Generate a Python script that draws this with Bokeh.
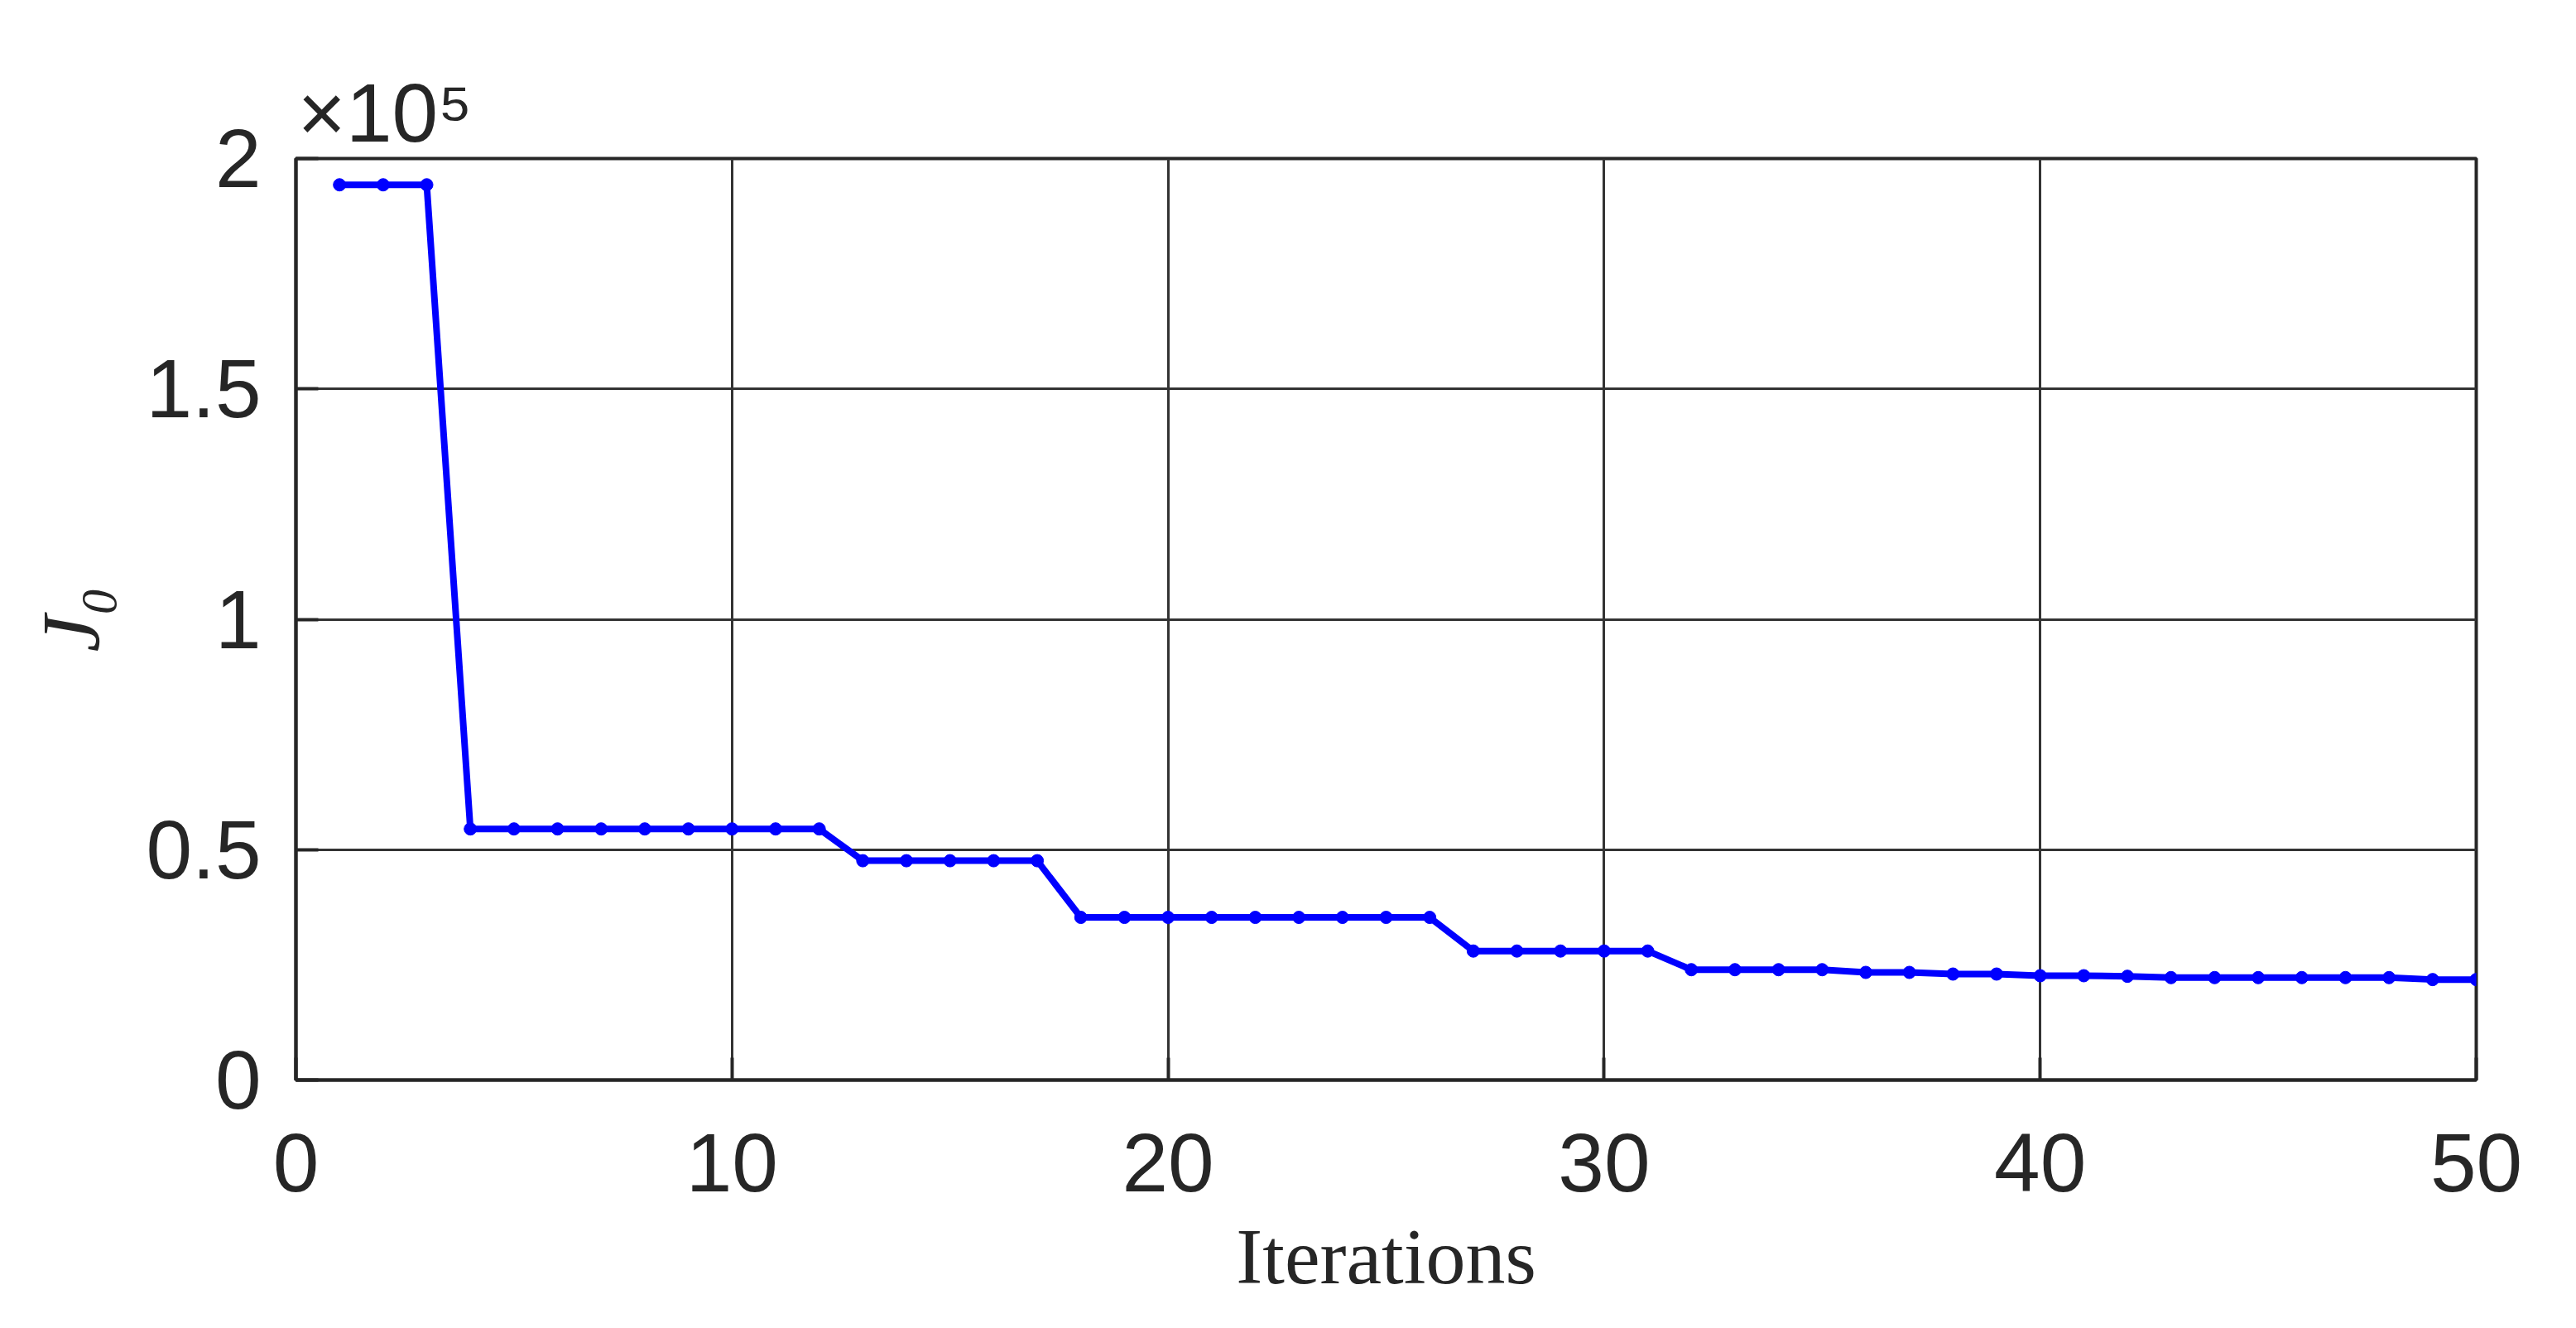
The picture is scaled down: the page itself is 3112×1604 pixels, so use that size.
from bokeh.plotting import figure
from bokeh.models import FixedTicker, Range1d
from bokeh.embed import file_html
from bokeh.resources import INLINE

# ---- data ----
iterations = list(range(1, 51))
j0_values = (
    [194300] * 3 +
    [54500] * 9 +
    [47600] * 5 +
    [35300] * 9 +
    [28000] * 5 +
    [23950] * 4 +
    [23360] * 2 +
    [23000] * 2 +
    [22640] * 2 +
    [22520] * 1 +
    [22230] * 6 +
    [21810] * 2
)
x_ticks = [0, 10, 20, 30, 40, 50]
y_ticks = [0, 50000, 100000, 150000, 200000]
y_tick_labels = ["0", "0.5", "1", "1.5", "2"]
x_label = "Iterations"
y_label = "J\u2080"
exponent_text = "\u00d710\u2075"

TXT = "#262626"
SANS = "Liberation Sans"
SERIF = "Liberation Serif"

p = figure(
    frame_width=2634, frame_height=1113,
    min_border_left=357, min_border_right=105,
    min_border_top=191, min_border_bottom=284,
    x_range=Range1d(0, 50), y_range=Range1d(0, 200000),
    output_backend="svg", toolbar_location=None,
    background_fill_color="white", border_fill_color="white",
)

p.outline_line_color = TXT
p.outline_line_width = 4
p.outline_line_alpha = 1.0

for ax in (p.xaxis[0], p.yaxis[0]):
    ax.axis_line_color = TXT
    ax.axis_line_width = 4
    ax.major_tick_line_color = TXT
    ax.major_tick_line_width = 4
    ax.major_tick_in = 27
    ax.major_tick_out = 0
    ax.minor_tick_line_color = None
    ax.major_label_text_font = SANS
    ax.major_label_text_font_size = "100px"
    ax.major_label_text_color = TXT

p.xaxis.ticker = FixedTicker(ticks=x_ticks)
p.yaxis.ticker = FixedTicker(ticks=y_ticks)
p.yaxis.major_label_overrides = {t: s for t, s in zip(y_ticks, y_tick_labels)}
p.xaxis.major_label_standoff = 65
p.yaxis.major_label_standoff = 42

p.xaxis.axis_label = x_label
p.xaxis.axis_label_text_font = SERIF
p.xaxis.axis_label_text_font_style = "normal"
p.xaxis.axis_label_text_font_size = "96px"
p.xaxis.axis_label_text_color = TXT
p.xaxis.axis_label_standoff = 22

p.yaxis.axis_label = y_label
p.yaxis.axis_label_text_font = SERIF
p.yaxis.axis_label_text_font_style = "italic"
p.yaxis.axis_label_text_font_size = "100px"
p.yaxis.axis_label_text_color = TXT
p.yaxis.axis_label_standoff = 32

p.title.text = exponent_text
p.title.align = "left"
p.title.offset = 2
p.title.standoff = 0
p.title.text_font = SANS
p.title.text_font_style = "normal"
p.title.text_font_size = "100px"
p.title.text_color = TXT

p.xgrid.ticker = FixedTicker(ticks=x_ticks)
p.ygrid.ticker = FixedTicker(ticks=y_ticks)
for g in (p.xgrid[0], p.ygrid[0]):
    g.grid_line_color = "#333333"
    g.grid_line_width = 3
    g.grid_line_alpha = 1.0

p.line(iterations, j0_values, line_color="#0000FF", line_width=8)
p.scatter(iterations, j0_values, size=15, fill_color="#0000FF", line_color="#0000FF")

open("out.html", "w").write(file_html(p, INLINE))
